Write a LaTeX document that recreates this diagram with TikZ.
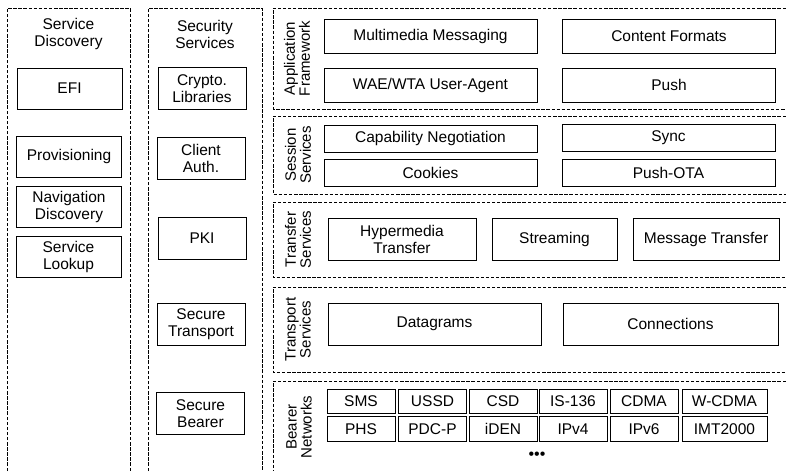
\documentclass[tikz,border=0pt]{standalone}
\usepackage{fontspec}
\setmainfont{Liberation Sans}
\usetikzlibrary{positioning}
\newcommand{\boxfont}{\fontsize{15.5}{17}\selectfont}
\newcommand{\lyrfont}{\fontsize{15}{15}\selectfont}
\tikzset{
  frame/.style ={draw, line width=0.8pt, dash pattern=on 3.5pt off 1.6pt},
  blk/.style   ={rectangle, draw, line width=1pt, inner sep=1pt,
                 align=center, font=\boxfont},
  sdbox/.style ={blk, minimum width=105pt, minimum height=41pt},
  ssbox/.style ={blk, minimum width=88pt, minimum height=42pt},
  appbox/.style={blk, minimum width=213pt, minimum height=34pt},
  sesbox/.style={blk, minimum width=213pt, minimum height=27pt},
  trfbox/.style={blk, minimum height=42pt},
  cell/.style  ={blk, minimum width=68pt, minimum height=24.5pt},
  ttl/.style   ={align=center, font=\boxfont, inner sep=0pt},
  lyr/.style   ={align=center, font=\lyrfont, inner sep=0pt, rotate=90},
}
\begin{document}
\begin{tikzpicture}[x=1pt,y=-1pt]
\useasboundingbox (0,0) rectangle (786,471);
% ---- service discovery (left) ---------------------------------------
\draw[frame] (7,471) -- (7,8) -- (130,8) -- (130,471);
\node[ttl]   (sdt)  at (68.5,34)  {Service\\Discovery};
\node[sdbox] (efi)  at (69.5,88.5) {EFI};
\node[sdbox] (prov) at (69,156.5) {Provisioning};
\node[sdbox] (nav)  at (69,206.5) {Navigation\\Discovery};
\node[sdbox] (look) at (68.5,257) {Service\\Lookup};

% ---- security services ----------------------------------------------
\draw[frame] (148,471) -- (148,8) -- (262,8) -- (262,471);
\node[ttl]   (sst)   at (205,34)    {Security\\Services};
\node[ssbox] (cryp)  at (202,88.5)  {Crypto.\\Libraries};
\node[ssbox] (auth)  at (201,158.5) {Client\\Auth.};
\node[ssbox] (pki)   at (202,238.5) {PKI};
\node[ssbox] (stran) at (201,324.5) {Secure\\Transport};
\node[ssbox] (sbear) at (200.5,413.5) {Secure\\Bearer};

% ---- application framework ------------------------------------------
\draw[frame] (786,8) -- (273,8) -- (273,109) -- (786,109);
\node[lyr]    (appl) at (297,58.5) {Application\\Framework};
\node[appbox] (mms)  at (430.5,36.5) {Multimedia Messaging};
\node[appbox] (cfmt) at (669,36.5)   {Content Formats};
\node[appbox] (wae)  at (430.5,85)   {WAE/WTA User-Agent};
\node[appbox] (push) at (669,85)     {Push};

% ---- session services -----------------------------------------------
\draw[frame] (786,116) -- (273,116) -- (273,194) -- (786,194);
\node[lyr]    (sesl) at (298,155)     {Session\\Services};
\node[sesbox] (cap)  at (430.5,138.5) {Capability Negotiation};
\node[sesbox] (sync) at (668.5,138)   {Sync};
\node[sesbox] (cook) at (430.5,173)   {Cookies};
\node[sesbox] (pota) at (668.5,173)   {Push-OTA};

% ---- transfer services ----------------------------------------------
\draw[frame] (786,202) -- (273,202) -- (273,277) -- (786,277);
\node[lyr]    (trfl) at (298,239.5) {Transfer\\Services};
\node[trfbox, minimum width=148pt] (hyp)  at (402,239)   {Hypermedia\\Transfer};
\node[trfbox, minimum width=125pt] (strm) at (554.5,239) {Streaming};
\node[trfbox, minimum width=146pt] (msgt) at (706,239)   {Message Transfer};

% ---- transport services ---------------------------------------------
\draw[frame] (786,287) -- (273,287) -- (273,372) -- (786,372);
\node[lyr]    (trpl) at (298,329.5) {Transport\\Services};
\node[trfbox, minimum width=213pt] (dgr) at (434.5,324) {Datagrams};
\node[trfbox, minimum width=215pt] (con) at (670.5,324) {Connections};

% ---- bearer networks ------------------------------------------------
\draw[frame] (786,381) -- (273,381) -- (273,471);
\node[lyr]  (bearl) at (299,427) {Bearer\\Networks};
\node[cell] (sms)   at (361,401.5)   {SMS};
\node[cell] (ussd)  at (432.5,401.5) {USSD};
\node[cell] (csd)   at (503,401.5)   {CSD};
\node[cell] (is)    at (573,401.5)   {IS-136};
\node[cell] (cdma)  at (644,401.5)   {CDMA};
\node[cell, minimum width=85pt] (wcdma) at (724.5,401.5) {W-CDMA};
\node[cell] (phs)   at (361,429)     {PHS};
\node[cell] (pdc)   at (432.5,429)   {PDC-P};
\node[cell] (iden)  at (503,429)     {iDEN};
\node[cell] (ipv4)  at (573,429)     {IPv4};
\node[cell] (ipv6)  at (644,429)     {IPv6};
\node[cell, minimum width=85pt] (imt) at (724.5,429) {IMT2000};
\node[font=\fontsize{16}{16}\selectfont, inner sep=0pt] (more) at (537,456) {•••};
\end{tikzpicture}
\end{document}
